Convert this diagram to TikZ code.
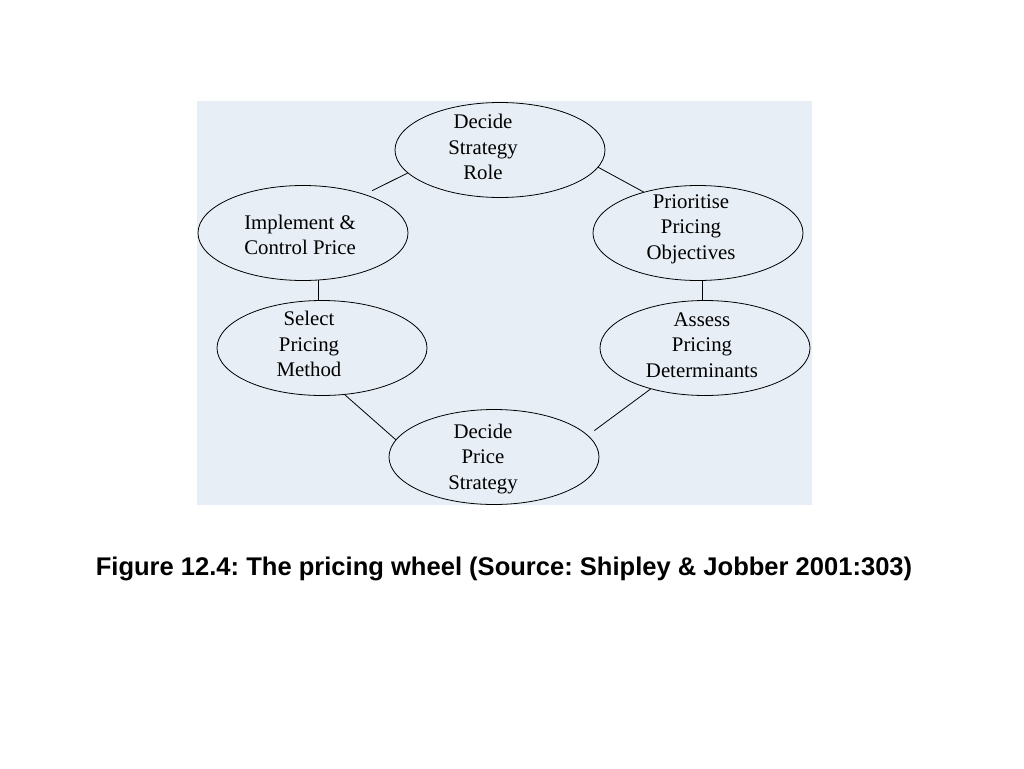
\documentclass[tikz,border=0pt]{standalone}
\usepackage{fontspec}
\setmainfont{Liberation Serif}
\newfontfamily\capfont{Liberation Sans}
\usetikzlibrary{shapes.geometric}
\definecolor{panel}{HTML}{E8EEF6}
\tikzset{
  stage/.style={ellipse, draw=black, line width=0.8pt, minimum width=210pt, minimum height=95pt, inner sep=0pt},
  stagetext/.style={align=center, font=\fontsize{20.8}{25.5}\selectfont, inner sep=0pt},
  link/.style={draw=black, line width=0.8pt}
}
\begin{document}
\frenchspacing
\begin{tikzpicture}[x=1pt,y=-1pt]
\useasboundingbox (0,0) rectangle (1024,768);
\fill[panel] (197,101) rectangle (812,505);
\node[stage] (dsr) at (500,150) {};
\node[stage] (prio) at (698,233) {};
\node[stage] (impl) at (303,233) {};
\node[stage] (sel) at (322,348) {};
\node[stage] (ass) at (705,348) {};
\node[stage] (dps) at (494,457) {};
\node[stagetext] (tdsr) at (483,147) {Decide\\Strategy\\Role};
\node[stagetext] (tprio) at (691,229) {Prioritise\\Pricing\\Objectives};
\node[stagetext] (timpl) at (300,235) {Implement \&\\Control Price};
\node[stagetext] (tsel) at (309,344) {Select\\Pricing\\Method};
\node[stagetext] (tass) at (702,345) {Assess\\Pricing\\Determinants};
\node[stagetext] (tdps) at (483,459) {Decide\\Price\\Strategy};
\draw[link, shorten <=8pt] (impl.32) -- (dsr.194);
\draw[link] (dsr.-10) -- (prio.143);
\draw[link] (impl.-72) -- (impl.-72 |- sel.north);
\draw[link] (prio.-85) -- (prio.-85 |- ass.north);
\draw[link] (sel.-64) -- (dps.170);
\draw[link, shorten >=8pt] (ass.217) -- (dps.13);
\node[font=\capfont\bfseries\fontsize{25.55}{30}\selectfont, inner sep=0pt] (cap) at (504,569) {Figure 12.4: The pricing wheel (Source: Shipley \& Jobber 2001:303)};
\end{tikzpicture}
\end{document}
